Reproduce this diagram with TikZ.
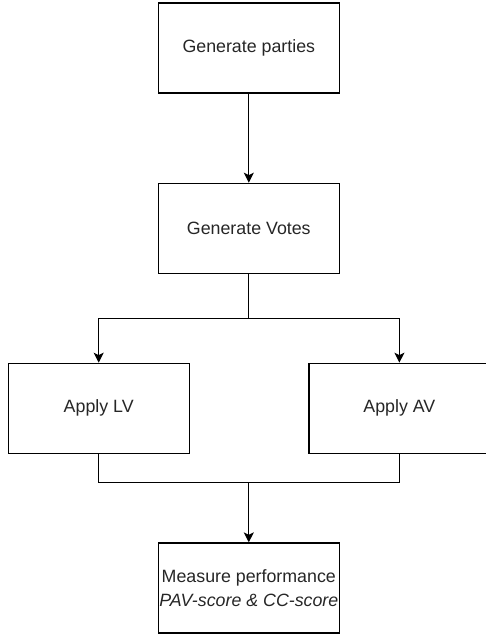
\documentclass[tikz,border=0pt]{standalone}
\usepackage{fontspec}
\setmainfont{Liberation Sans}
\usetikzlibrary{arrows.meta}
\begin{document}
\begin{tikzpicture}[x=1pt,y=1pt,
  box/.style={draw=black, line width=1.3pt, minimum width=181pt, minimum height=90pt, inner sep=0pt, align=center, font=\fontsize{17.8}{24}\selectfont, text=black!85},
  conn/.style={draw=black, line width=1.3pt},
  arr/.style={conn, -{Stealth[length=10pt,width=10pt,inset=2.5pt]}}]
\useasboundingbox (0,0) rectangle (486,-634);
\node[box] (p1) at (248.8,-48) {Generate parties};
\node[box] (p2) at (248.8,-228.3) {Generate Votes};
\node[box] (lv) at (98.7,-408.3) {Apply LV};
\node[box] (av) at (399.4,-408.3) {Apply AV};
\node[box] (m) at (248.8,-588) {Measure performance\\\textit{PAV-score \& CC-score}};
\coordinate (split) at (248.8,-318.3);
\coordinate (join) at (248.8,-482.7);
\draw[arr] (p1) -- (p2);
\draw[conn] (p2.south) -- (split);
\draw[arr] (split) -| (lv.north);
\draw[arr] (split) -| (av.north);
\draw[conn] (lv.south) |- (join);
\draw[conn] (av.south) |- (join);
\draw[arr] (join) -- (m.north);
\end{tikzpicture}
\end{document}
